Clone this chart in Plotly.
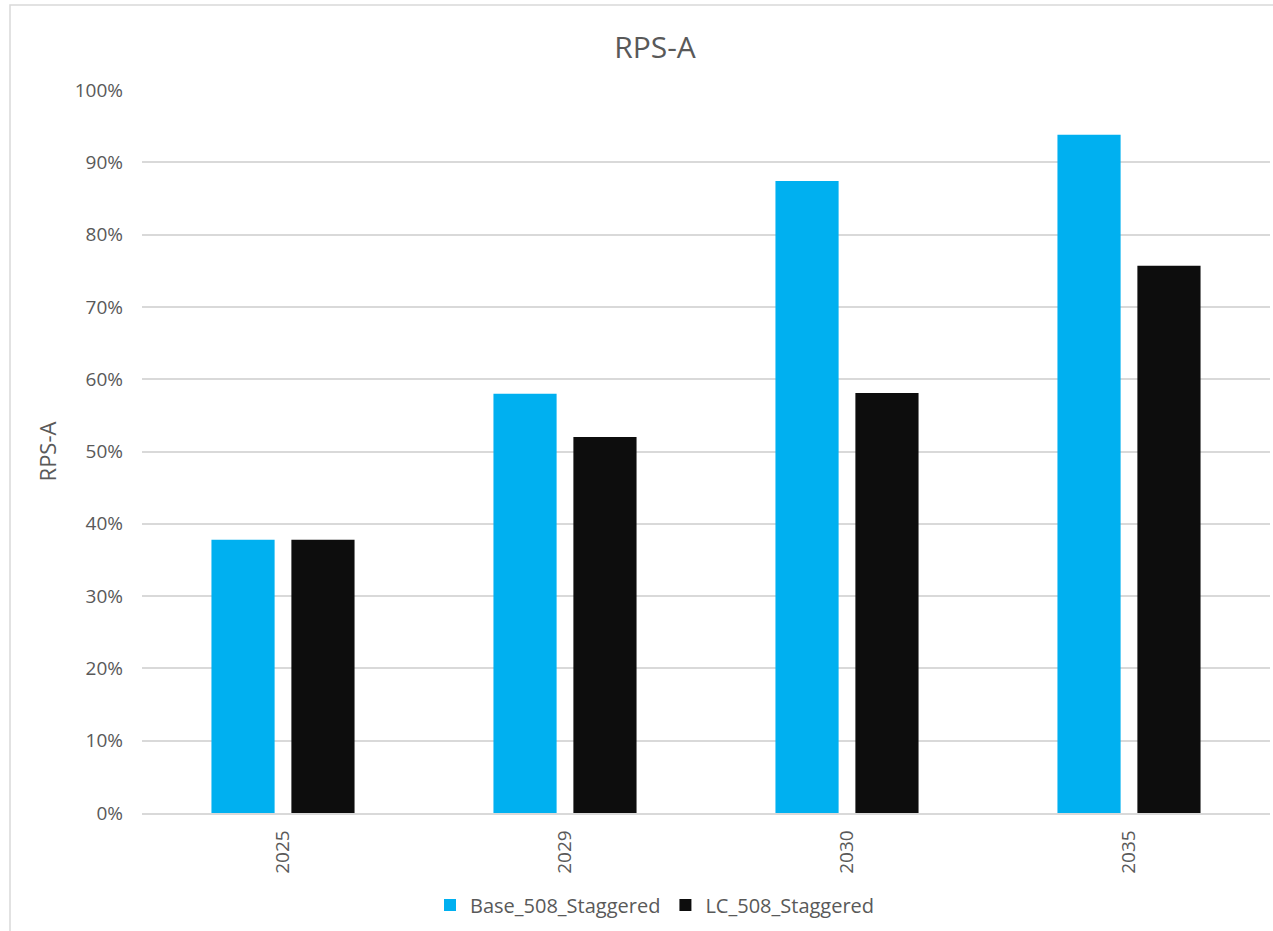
import plotly.graph_objects as go

# Chart data
years = ["2025", "2029", "2030", "2035"]
base_508_staggered = [37.8, 58.0, 87.4, 93.8]
lc_508_staggered = [37.8, 52.0, 58.1, 75.7]
y_ticks = list(range(0, 101, 10))
y_tick_labels = [f"{v}%" for v in y_ticks]

FONT = "Open Sans"
TEXT_GRAY = "#595959"
GRID = "#d9d9d9"

fig = go.Figure()
fig.add_trace(go.Bar(name="Base_508_Staggered", x=years, y=base_508_staggered,
                     marker=dict(color="#00b0f0", line=dict(width=0))))
fig.add_trace(go.Bar(name="LC_508_Staggered", x=years, y=lc_508_staggered,
                     marker=dict(color="#0d0d0d", line=dict(width=0))))

W, H = 1273, 931
L, R, T, B = 142, 3, 90, 118
pw, ph = W - L - R, H - T - B

fig.update_layout(
    width=W, height=H,
    margin=dict(l=L, r=R, t=T, b=B, autoexpand=False),
    paper_bgcolor="white", plot_bgcolor="white",
    barmode="group", bargap=0.433, bargroupgap=0.21,
    font=dict(family=FONT, color=TEXT_GRAY, size=19),
    title=dict(text="RPS-A", x=655 / W, xanchor="center", y=1 - 47 / H, yanchor="middle",
               font=dict(family=FONT, size=30, color=TEXT_GRAY)),
    showlegend=True,
    legend=dict(orientation="h", x=(655 - L) / pw, xref="paper", xanchor="center",
                y=-(905 - (T + ph)) / ph, yanchor="middle",
                font=dict(family=FONT, size=20, color=TEXT_GRAY),
                itemwidth=30, traceorder="normal"),
    xaxis=dict(type="category", tickangle=-90, showgrid=False,
               showline=True, linecolor=GRID, linewidth=1.5,
               ticks="", ticklabelstandoff=8,
               tickfont=dict(family=FONT, size=19, color=TEXT_GRAY)),
    yaxis=dict(range=[0, 100], tickvals=y_ticks, ticktext=y_tick_labels,
               showgrid=True, gridcolor=GRID, gridwidth=1.5,
               zeroline=False, showline=False, ticks="",
               ticklabelstandoff=18,
               tickfont=dict(family=FONT, size=19, color=TEXT_GRAY),
               title=dict(text="RPS-A", standoff=11,
                          font=dict(family=FONT, size=22, color=TEXT_GRAY))),
    shapes=[dict(type="rect", xref="paper", yref="paper",
                 x0=(10 - L) / pw, x1=(W + 20 - L) / pw,
                 y0=-(H + 20 - T - ph) / ph, y1=(T + ph - 5) / ph,
                 line=dict(color=GRID, width=1.5), fillcolor="rgba(0,0,0,0)",
                 layer="below")],
)

fig.write_html("out.html")
